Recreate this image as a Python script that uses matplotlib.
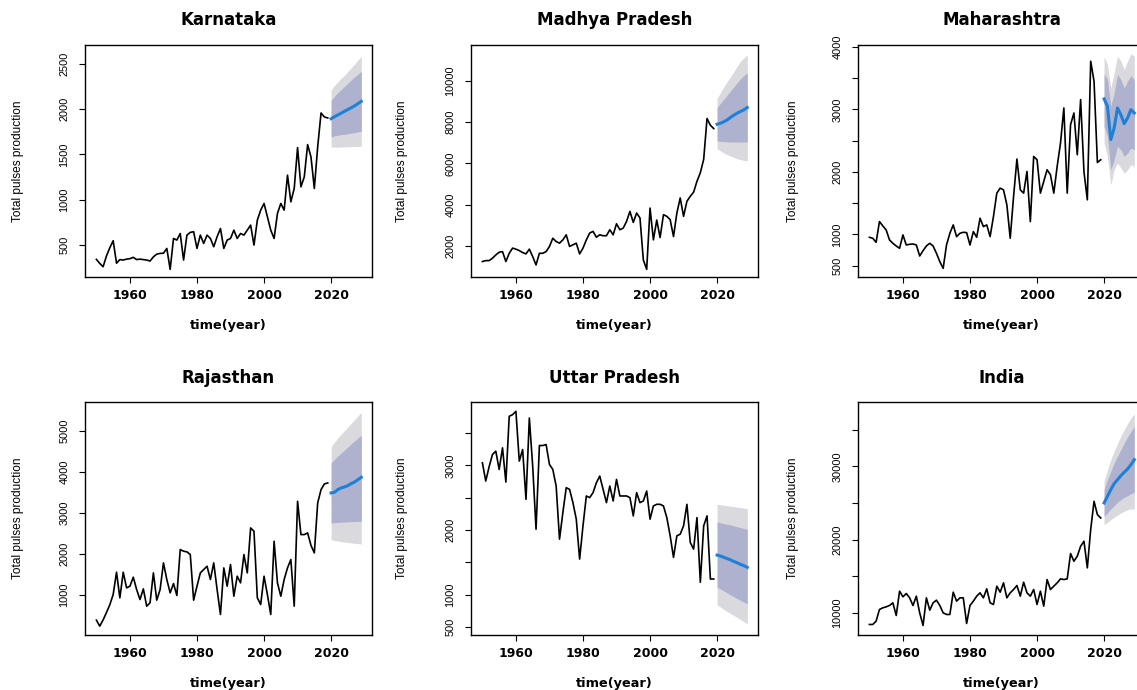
import numpy as np
import matplotlib.pyplot as plt
from matplotlib import font_manager

# years of the observed series and of the 10-year forecast
years = np.arange(1950, 2020)
fc_years = np.arange(2020, 2030)

# Karnataka
kar_hist = [342, 298, 261, 380, 470, 548, 300, 340, 335, 345,
            350, 365, 340, 345, 340, 335, 324, 370, 400, 408,
            410, 463, 232, 573, 555, 628, 335, 610, 640, 647,
            463, 610, 518, 610, 573, 482, 592, 683, 463, 555,
            573, 665, 573, 628, 610, 665, 720, 500, 775, 885,
            959, 812, 665, 573, 849, 959, 885, 1271, 977, 1124,
            1575, 1142, 1252, 1608, 1472, 1124, 1583, 1957, 1913, 1902]
kar_mean = [1894, 1915, 1935, 1955, 1975, 1995, 2015, 2035, 2060, 2085]
kar_lo80 = [1693, 1705, 1712, 1718, 1722, 1728, 1735, 1740, 1748, 1755]
kar_hi80 = [2096, 2140, 2180, 2215, 2250, 2285, 2320, 2355, 2385, 2416]
kar_lo95 = [1583, 1580, 1580, 1582, 1583, 1585, 1586, 1588, 1589, 1590]
kar_hi95 = [2206, 2260, 2300, 2340, 2372, 2415, 2455, 2495, 2540, 2580]

# Madhya Pradesh
mp_hist = [1240, 1285, 1285, 1400, 1560, 1690, 1720, 1240, 1640, 1890,
           1840, 1770, 1675, 1610, 1840, 1480, 1075, 1640, 1640, 1720,
           1970, 2370, 2210, 2130, 2290, 2535, 1970, 2050, 2130, 1610,
           1890, 2290, 2620, 2700, 2420, 2535, 2490, 2490, 2780, 2535,
           3070, 2780, 2860, 3185, 3670, 3135, 3590, 3350, 1320, 860,
           3830, 2290, 3250, 2400, 3510, 3430, 3270, 2450, 3590, 4320,
           3430, 4160, 4400, 4600, 5130, 5540, 6190, 8170, 7840, 7680]
mp_mean = [7890, 7940, 8010, 8100, 8220, 8330, 8430, 8510, 8590, 8700]
mp_lo80 = [7080, 7060, 7050, 7040, 7030, 7030, 7030, 7030, 7030, 7030]
mp_hi80 = [8700, 8900, 9100, 9300, 9500, 9700, 9900, 10100, 10250, 10380]
mp_lo95 = [6710, 6600, 6500, 6420, 6350, 6280, 6220, 6180, 6140, 6110]
mp_hi95 = [9140, 9420, 9700, 9950, 10200, 10450, 10700, 10950, 11100, 11250]

# Maharashtra
mh_hist = [954, 938, 874, 1205, 1136, 1072, 911, 858, 815, 778,
           992, 831, 842, 847, 831, 655, 740, 815, 858, 815,
           698, 564, 457, 831, 1018, 1152, 965, 1018, 1034, 1029,
           831, 1045, 954, 1259, 1125, 1152, 965, 1285, 1660, 1740,
           1713, 1473, 938, 1606, 2205, 1713, 1660, 2007, 1205, 2247,
           2194, 1660, 1847, 2034, 1954, 1660, 2087, 2461, 3022, 1660,
           2755, 2942, 2274, 3156, 2000, 1553, 3770, 3450, 2150, 2194]
mh_mean = [3167, 3049, 2515, 2702, 3022, 2915, 2771, 2862, 2995, 2942]
mh_lo80 = [2728, 2568, 2034, 2194, 2408, 2354, 2247, 2301, 2381, 2354]
mh_hi80 = [3573, 3476, 3049, 3263, 3557, 3476, 3343, 3450, 3540, 3476]
mh_lo95 = [2461, 2247, 1793, 2034, 2141, 2060, 1980, 2034, 2114, 2087]
mh_hi95 = [3840, 3717, 3343, 3583, 3850, 3770, 3637, 3770, 3893, 3850]

# Rajasthan
rj_hist = [374, 228, 380, 560, 750, 1000, 1545, 919, 1545, 1163,
           1203, 1423, 1122, 878, 1138, 715, 797, 1528, 862, 1122,
           1772, 1366, 1041, 1268, 976, 2098, 2057, 2041, 1976, 862,
           1203, 1528, 1610, 1691, 1366, 1772, 1122, 512, 1650, 1203,
           1732, 959, 1447, 1285, 1976, 1528, 2626, 2545, 919, 756,
           1447, 1000, 512, 2301, 1285, 959, 1366, 1650, 1854, 715,
           3276, 2463, 2463, 2504, 2200, 2016, 3236, 3561, 3700, 3724]
rj_mean = [3480, 3496, 3561, 3602, 3626, 3659, 3707, 3748, 3805, 3862]
rj_lo80 = [2748, 2755, 2760, 2765, 2770, 2775, 2778, 2782, 2786, 2789]
rj_hi80 = [4211, 4300, 4380, 4450, 4530, 4600, 4680, 4750, 4820, 4886]
rj_lo95 = [2341, 2320, 2305, 2290, 2280, 2270, 2260, 2250, 2242, 2236]
rj_hi95 = [4602, 4720, 4820, 4910, 5000, 5090, 5180, 5270, 5360, 5447]

# Uttar Pradesh
up_hist = [3041, 2759, 2979, 3169, 3221, 2938, 3272, 2743, 3760, 3785,
           3837, 3067, 3246, 2476, 3734, 2990, 2014, 3308, 3308, 3323,
           3015, 2938, 2682, 1860, 2271, 2656, 2630, 2425, 2169, 1552,
           2066, 2528, 2502, 2579, 2733, 2836, 2630, 2425, 2682, 2451,
           2784, 2528, 2528, 2528, 2502, 2220, 2579, 2425, 2451, 2605,
           2169, 2374, 2399, 2399, 2374, 2194, 1912, 1578, 1912, 1937,
           2066, 2399, 1809, 1706, 2194, 1193, 2066, 2220, 1244, 1244]
up_mean = [1614, 1600, 1580, 1560, 1540, 1515, 1495, 1470, 1450, 1424]
up_lo80 = [1116, 1090, 1060, 1030, 1000, 970, 940, 915, 885, 859]
up_hi80 = [2127, 2115, 2100, 2090, 2080, 2065, 2050, 2040, 2025, 2014]
up_lo95 = [844, 810, 775, 740, 710, 680, 650, 615, 585, 551]
up_hi95 = [2399, 2392, 2385, 2378, 2370, 2362, 2355, 2348, 2340, 2333]

# India
in_hist = [8409, 8409, 8864, 10455, 10682, 10818, 11000, 11364, 9636, 12955,
           12182, 12636, 12045, 11000, 12273, 10000, 8273, 12045, 10364, 11364,
           11727, 11000, 10000, 9773, 9773, 12818, 11591, 12045, 12045, 8545,
           11000, 11591, 12273, 12727, 12045, 13273, 11364, 11136, 13636, 12818,
           14091, 12045, 12727, 13182, 13727, 12273, 14182, 12727, 12273, 13182,
           11136, 12955, 10909, 14545, 13182, 13636, 14091, 14636, 14545, 14636,
           18091, 17045, 17727, 19091, 19773, 16136, 21364, 25227, 23409, 22955]
in_mean = [25000, 25909, 26818, 27636, 28182, 28727, 29182, 29636, 30227, 30909]
in_lo80 = [23182, 23636, 24182, 24636, 25091, 25455, 25773, 26000, 26273, 26455]
in_hi80 = [26818, 28182, 29318, 30455, 31364, 32273, 33182, 34000, 34773, 35455]
in_lo95 = [22045, 22364, 22727, 23045, 23318, 23636, 23864, 24091, 24182, 24182]
in_hi95 = [27955, 29545, 30909, 32045, 33091, 34091, 35000, 35818, 36591, 37182]

# pick a narrow font for the rotated y texts if there is one
names = {f.name for f in font_manager.fontManager.ttflist}
if 'Liberation Sans Narrow' in names:
    narrow, ytick_size, ylab_size = 'Liberation Sans Narrow', 9.2, 10.2
else:
    narrow, ytick_size, ylab_size = 'Liberation Sans', 7.9, 8.6

panels = [
    ('Karnataka', kar_hist, kar_mean, kar_lo80, kar_hi80, kar_lo95, kar_hi95,
     (148, 2712), [500, 1000, 1500, 2000, 2500], None),
    ('Madhya Pradesh', mp_hist, mp_mean, mp_lo80, mp_hi80, mp_lo95, mp_hi95,
     (491, 11753), [2000, 4000, 6000, 8000, 10000], None),
    ('Maharashtra', mh_hist, mh_mean, mh_lo80, mh_hi80, mh_lo95, mh_hi95,
     (319, 4037), [500, 1000, 1500, 2000, 2500, 3000, 3500, 4000],
     ['500', '1000', '', '2000', '', '3000', '', '4000']),
    ('Rajasthan', rj_hist, rj_mean, rj_lo80, rj_hi80, rj_lo95, rj_hi95,
     (24, 5700), [1000, 2000, 3000, 4000, 5000], None),
    ('Uttar Pradesh', up_hist, up_mean, up_lo80, up_hi80, up_lo95, up_hi95,
     (386, 3981), [500, 1000, 1500, 2000, 2500, 3000, 3500],
     ['500', '1000', '', '2000', '', '3000', '']),
    ('India', in_hist, in_mean, in_lo80, in_hi80, in_lo95, in_hi95,
     (7040, 38786), [10000, 15000, 20000, 25000, 30000, 35000],
     ['10000', '', '20000', '', '30000', '']),
]

W, H = 1137, 690
lefts = [85, 471, 858]
tops = [44.5, 402]
pw, ph = 287, 232.5
ylab_x = [-0.233, -0.241, -0.226]

fig = plt.figure(figsize=(W / 100, H / 100), dpi=100)

for i, (title, hist, mean, lo80, hi80, lo95, hi95, ylim, yt, ylbl) in enumerate(panels):
    r, c = divmod(i, 3)
    ax = fig.add_axes([lefts[c] / W, 1 - (tops[r] + ph) / H, pw / W, ph / H])

    ax.fill_between(fc_years, lo95, hi95, color='#D9D9DE', lw=0)
    ax.fill_between(fc_years, lo80, hi80, color='#AEB2CE', lw=0)
    ax.plot(years, hist, color='black', lw=1.2)
    ax.plot(fc_years, mean, color='#1F80D8', lw=2.2)

    ax.set_xlim(1946.6, 2032.2)
    ax.set_ylim(*ylim)
    ax.set_xticks([1960, 1980, 2000, 2020])
    ax.set_xticklabels(['1960', '1980', '2000', '2020'], fontsize=9,
                       fontweight='bold', family='DejaVu Sans')
    labels = ylbl if ylbl is not None else [str(v) for v in yt]
    ax.set_yticks(yt)
    ax.set_yticklabels(labels, rotation=90, va='center', fontsize=ytick_size,
                       family=narrow)
    ax.tick_params(axis='x', direction='out', length=4.3, width=0.8, pad=4.5)
    ax.tick_params(axis='y', direction='out', length=4.3, width=0.8, pad=7)
    for sp in ax.spines.values():
        sp.set_linewidth(1.0)

    ax.set_title(title, fontsize=12, fontweight='bold', family='DejaVu Sans',
                 y=1.105, pad=0, va='center')
    ax.set_xlabel('time(year)', fontsize=9.3, fontweight='bold', family='DejaVu Sans')
    ax.xaxis.set_label_coords(0.5, -0.21)
    ax.xaxis.label.set_va('center')
    ax.set_ylabel('Total pulses production', fontsize=ylab_size, family=narrow)
    ax.yaxis.set_label_coords(ylab_x[c], 0.5)
    ax.yaxis.label.set_va('center')

fig.savefig('out.png', dpi=100)
